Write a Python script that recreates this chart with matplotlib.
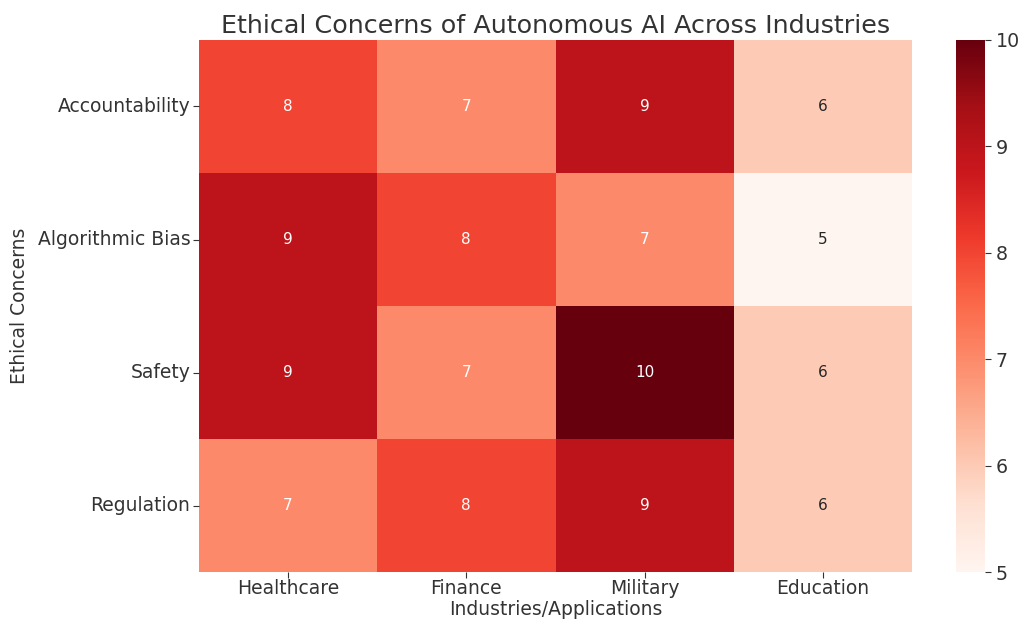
import matplotlib
matplotlib.use("Agg")
import matplotlib.pyplot as plt
import seaborn as sns
import numpy as np

industries = ["Healthcare", "Finance", "Military", "Education"]
concerns = ["Accountability", "Algorithmic Bias", "Safety", "Regulation"]
scores = np.array([
    [8, 7, 9, 6],
    [9, 8, 7, 5],
    [9, 7, 10, 6],
    [7, 8, 9, 6],
])

txt = "#333333"
plt.rcParams["text.color"] = txt
plt.rcParams["axes.labelcolor"] = txt
plt.rcParams["xtick.color"] = txt
plt.rcParams["ytick.color"] = txt

fig = plt.figure(figsize=(10.24, 6.33), dpi=100)
ax = fig.add_axes([0.194, 0.096, 0.697, 0.841])
cax = fig.add_axes([0.934, 0.096, 0.028, 0.841])

sns.heatmap(scores, ax=ax, cbar_ax=cax, cmap="Reds", vmin=5, vmax=10,
            annot=True, fmt="d", xticklabels=industries, yticklabels=concerns,
            annot_kws={"fontsize": 11})

ax.set_title("Ethical Concerns of Autonomous AI Across Industries", fontsize=18.3, pad=5)
ax.set_xlabel("Industries/Applications", fontsize=13.5, labelpad=1)
ax.set_ylabel("Ethical Concerns", fontsize=13.5, labelpad=6)
ax.tick_params(axis="x", labelsize=13.5, length=4, pad=1)
ax.tick_params(axis="y", labelsize=13.5, length=4, pad=2)
ax.set_yticklabels(concerns, rotation=0)
cax.tick_params(labelsize=13.7, length=4)
cax.set_yticks([5, 6, 7, 8, 9, 10])

fig.savefig("out.png", dpi=100)
